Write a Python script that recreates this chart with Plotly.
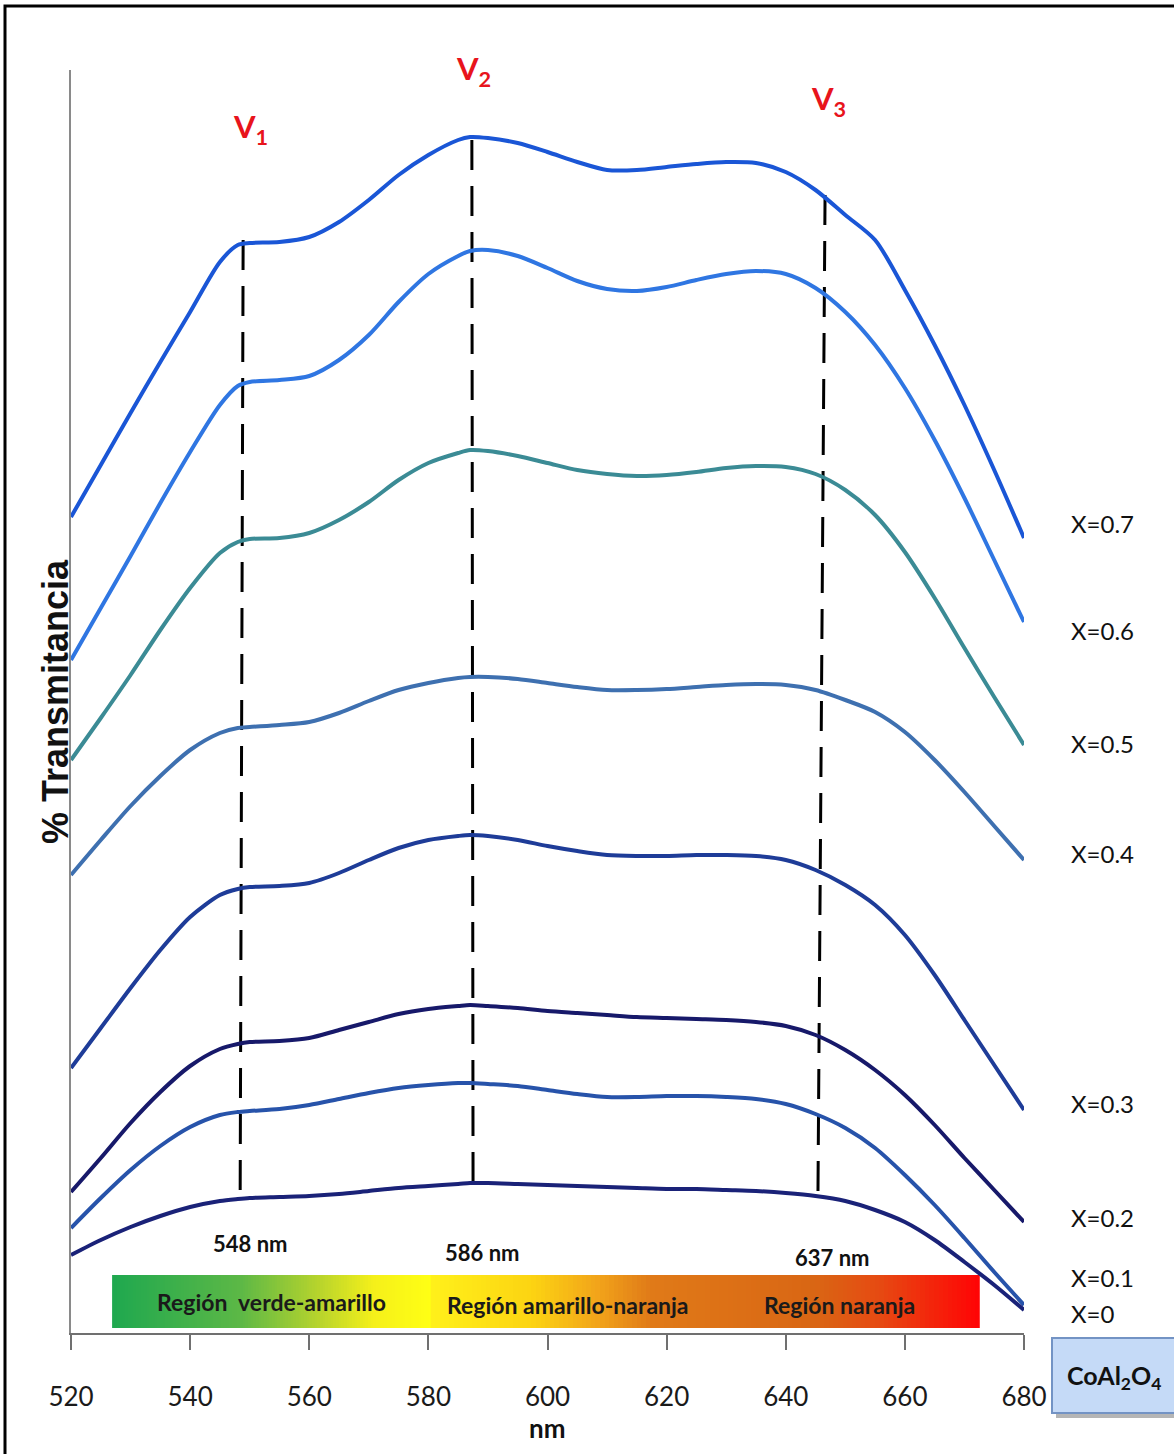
import numpy as np
import plotly.graph_objects as go

# ---------------- data ----------------
wavelength = [520, 525, 530, 535, 540, 545, 548, 550, 555, 560, 565, 570, 575, 580, 585, 587,
              590, 595, 600, 605, 610, 615, 620, 625, 630, 635, 640, 645, 650, 655, 660, 665,
              670, 675, 680]

t_x07 = [81.6, 86.8, 92.0, 97.1, 102.1, 107.1, 108.8, 109.0, 109.1, 109.6, 111.1, 113.3, 115.8,
         117.8, 119.3, 119.6, 119.5, 119.0, 118.1, 117.1, 116.3, 116.3, 116.6, 116.9, 117.1,
         117.0, 116.1, 114.3, 111.8, 109.3, 104.3, 98.8, 92.8, 86.3, 79.5]
t_x06 = [67.3, 72.5, 77.7, 83.0, 88.1, 92.8, 94.7, 95.1, 95.3, 95.7, 97.3, 99.8, 103.1, 105.9,
         107.7, 108.2, 108.3, 107.7, 106.5, 105.2, 104.4, 104.2, 104.6, 105.3, 105.9, 106.2,
         105.9, 104.5, 102.1, 98.8, 94.5, 89.3, 83.5, 77.3, 71.1]
t_x05 = [57.3, 61.5, 65.8, 70.3, 74.5, 78.0, 79.1, 79.4, 79.5, 80.0, 81.3, 83.1, 85.3, 87.0,
         88.0, 88.3, 88.2, 87.7, 87.0, 86.3, 85.9, 85.7, 85.8, 86.1, 86.5, 86.7, 86.6, 85.9,
         84.3, 81.8, 78.1, 73.5, 68.5, 63.6, 58.8]
t_x04 = [45.8, 49.3, 52.7, 55.7, 58.3, 60.0, 60.5, 60.6, 60.8, 61.1, 62.0, 63.2, 64.3, 65.0,
         65.5, 65.6, 65.6, 65.4, 65.0, 64.6, 64.3, 64.3, 64.4, 64.6, 64.8, 64.9, 64.8, 64.3,
         63.3, 62.1, 60.1, 57.3, 54.1, 50.7, 47.3]
t_x03 = [26.5, 30.5, 34.5, 38.3, 41.6, 43.8, 44.4, 44.6, 44.7, 45.0, 46.0, 47.3, 48.5, 49.3,
         49.7, 49.8, 49.7, 49.3, 48.7, 48.2, 47.8, 47.7, 47.7, 47.8, 47.8, 47.7, 47.3, 46.3,
         44.8, 42.8, 39.8, 35.8, 31.3, 26.8, 22.3]
t_x02 = [14.1, 17.5, 21.0, 24.1, 26.7, 28.4, 28.9, 29.1, 29.2, 29.5, 30.3, 31.1, 31.9, 32.4,
         32.7, 32.8, 32.7, 32.5, 32.2, 32.0, 31.8, 31.6, 31.5, 31.4, 31.3, 31.1, 30.7, 29.8,
         28.3, 26.3, 23.8, 20.8, 17.5, 14.3, 11.1]
t_x01 = [10.5, 13.5, 16.3, 18.7, 20.6, 21.8, 22.1, 22.2, 22.4, 22.8, 23.4, 24.0, 24.5, 24.8,
         25.0, 25.0, 24.9, 24.7, 24.3, 23.9, 23.6, 23.6, 23.7, 23.7, 23.6, 23.4, 22.9, 21.9,
         20.5, 18.5, 15.8, 12.8, 9.5, 6.1, 2.8]
t_x00 = [7.8, 9.3, 10.6, 11.7, 12.6, 13.2, 13.4, 13.5, 13.6, 13.7, 13.9, 14.2, 14.5, 14.7,
         14.9, 15.0, 15.0, 14.9, 14.8, 14.7, 14.6, 14.5, 14.4, 14.4, 14.3, 14.2, 14.0, 13.7,
         13.2, 12.3, 11.1, 9.3, 7.1, 4.8, 2.3]

series_names = ["X=0.7", "X=0.6", "X=0.5", "X=0.4", "X=0.3", "X=0.2", "X=0.1", "X=0"]
series_values = [t_x07, t_x06, t_x05, t_x04, t_x03, t_x02, t_x01, t_x00]

# band peak markers (nm) and their labels
band_names = ["V<sub>1</sub>", "V<sub>2</sub>", "V<sub>3</sub>"]
band_labels = ["548 nm", "586 nm", "637 nm"]
x_ticks = [520, 540, 560, 580, 600, 620, 640, 660, 680]

region_names = ["Región  verde-amarillo", "Región amarillo-naranja", "Región naranja"]

# ---------------- styles / positions ----------------
series_colors = ["#1a56d6", "#2f76e2", "#3b8b95", "#3e70b0", "#1e3c98", "#17196a", "#2753aa", "#1a2278"]
label_y = [81.0, 70.3, 59.0, 48.0, 23.0, 11.6, 5.6, 2.0]

vline_x_top = [548.9, 587.3, 646.6]
vline_x_bot = [548.4, 587.5, 645.4]
vline_y_top = [109.3, 119.3, 113.8]
vline_y_bot = [13.8, 14.8, 13.3]
band_name_pos = [(550.1, 120.5), (587.5, 126.3), (647.1, 123.3)]
band_label_pos = [(550.1, 9.0), (589.0, 8.1), (647.8, 7.6)]
region_text_pos = [(553.7, 3.1), (603.4, 2.8), (649.1, 2.8)]

bar_y0, bar_y1 = 0.5, 5.8
bar1_x0, bar1_x1 = 526.9, 580.6
bar2_x0, bar2_x1 = 580.4, 672.6
bar1_scale = [[0.0, "#1fa84f"], [0.4, "#5cb846"], [0.65, "#b8d42c"], [0.82, "#f5f01a"], [1.0, "#ffff14"]]
bar2_scale = [[0.0, "#fff01a"], [0.18, "#fcd412"], [0.3, "#f2a51a"], [0.4, "#e07a18"],
              [0.7, "#d96614"], [0.82, "#e64a12"], [1.0, "#ff0505"]]

W, H = 1174, 1454
ML, MR, MT, MB = 71, 150, 70, 121
PW, PH = W - ML - MR, H - MT - MB


def px(xp):
    return (xp - ML) / PW


def py(yp):
    return (H - MB - yp) / PH


FONT = "Lato, Liberation Sans, Arial, sans-serif"
FONT_TITLE = "Liberation Sans, Arial, sans-serif"

fig = go.Figure()

# colour region bars
for (x0, x1, cs) in [(bar1_x0, bar1_x1, bar1_scale), (bar2_x0, bar2_x1, bar2_scale)]:
    n = 120
    fig.add_trace(go.Heatmap(
        z=[list(np.linspace(0, 1, n))],
        x=list(np.linspace(x0, x1, n + 1)),
        y=[bar_y0, bar_y1],
        colorscale=cs, showscale=False, hoverinfo="skip", zmin=0, zmax=1,
    ))

# dashed band lines
for i in range(3):
    fig.add_trace(go.Scatter(
        x=[vline_x_top[i], vline_x_bot[i]], y=[vline_y_top[i], vline_y_bot[i]],
        mode="lines", line=dict(color="black", width=3, dash="30px,16px"),
        hoverinfo="skip", showlegend=False,
    ))

# spectra
for name, vals, col in zip(series_names, series_values, series_colors):
    assert len(vals) == len(wavelength)
    fig.add_trace(go.Scatter(
        x=wavelength, y=vals, mode="lines", name=name,
        line=dict(color=col, width=4, shape="spline", smoothing=0.8),
        showlegend=False,
    ))

ann = []
for name, yv in zip(series_names, label_y):
    ann.append(dict(x=px(1069), y=yv, xref="paper", yref="y", text=name, showarrow=False,
                    font=dict(family=FONT, size=24, color="#111111"), xanchor="left", yanchor="middle"))
for name, (xx, yy) in zip(band_names, band_name_pos):
    ann.append(dict(x=xx, y=yy, xref="x", yref="y", text="<b>" + name + "</b>", showarrow=False,
                    font=dict(family=FONT, size=31, color="#e8141c"), xanchor="center", yanchor="middle"))
for lab, (xx, yy) in zip(band_labels, band_label_pos):
    ann.append(dict(x=xx, y=yy, xref="x", yref="y", text="<b>" + lab + "</b>", showarrow=False,
                    font=dict(family=FONT, size=22, color="#111111"), xanchor="center", yanchor="middle"))
for lab, (xx, yy) in zip(region_names, region_text_pos):
    ann.append(dict(x=xx, y=yy, xref="x", yref="y", text="<b>" + lab + "</b>", showarrow=False,
                    font=dict(family=FONT, size=23, color="#1a1a1a"), xanchor="center", yanchor="middle"))

# axis titles
ann.append(dict(x=px(547), y=py(1428), xref="paper", yref="paper", text="<b>nm</b>", showarrow=False,
                font=dict(family=FONT, size=26, color="#111111"), xanchor="center", yanchor="middle"))
ann.append(dict(x=px(55), y=py(702), xref="paper", yref="paper", text="<b>% Transmitancia</b>",
                showarrow=False, textangle=-90,
                font=dict(family=FONT_TITLE, size=36, color="#111111"),
                xanchor="center", yanchor="middle"))
# CoAl2O4 box text
ann.append(dict(x=px(1114), y=py(1377), xref="paper", yref="paper",
                text="<b>CoAl<sub>2</sub>O<sub>4</sub></b>", showarrow=False,
                font=dict(family=FONT, size=25, color="#111111"), xanchor="center", yanchor="middle"))

shapes = [
    # outer frame
    dict(type="rect", xref="paper", yref="paper", x0=px(5), x1=px(1190), y0=py(1470), y1=py(6),
         line=dict(color="black", width=3), fillcolor="rgba(0,0,0,0)", layer="below"),
    # CoAl2O4 box shadow + box
    dict(type="rect", xref="paper", yref="paper", x0=px(1056), x1=px(1190), y0=py(1418), y1=py(1342),
         line=dict(width=0), fillcolor="rgba(90,90,90,0.45)"),
    dict(type="rect", xref="paper", yref="paper", x0=px(1052), x1=px(1190), y0=py(1413), y1=py(1338),
         line=dict(color="#7393c4", width=2), fillcolor="#c5daf7"),
]

fig.update_layout(
    width=W, height=H,
    margin=dict(l=ML, r=MR, t=MT, b=MB, pad=0),
    paper_bgcolor="white", plot_bgcolor="white",
    showlegend=False,
    annotations=ann, shapes=shapes,
    xaxis=dict(range=[520, 680], tickvals=x_ticks, ticktext=[str(v) for v in x_ticks],
               showgrid=False, zeroline=False, showline=True, linecolor="#707070", linewidth=2,
               ticks="outside", ticklen=15, tickwidth=2, tickcolor="#707070",
               tickfont=dict(family=FONT, size=26, color="#1a1a1a"), ticklabelstandoff=25),
    yaxis=dict(range=[0, (H - MB - MT) / 10.0], showgrid=False, zeroline=False, showline=True,
               linecolor="#8a8a8a", linewidth=2, showticklabels=False, ticks=""),
)

fig.write_html("out.html")
